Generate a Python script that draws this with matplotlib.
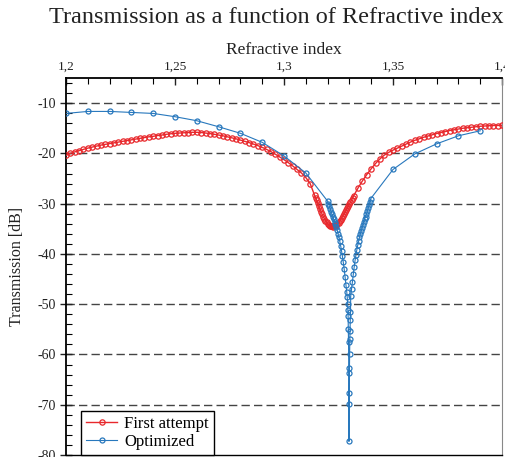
import numpy as np
import matplotlib.pyplot as plt
from matplotlib.ticker import MultipleLocator

# First attempt: coarse left part, dense dip, coarse right part
red_x_left = np.round(np.arange(1.200, 1.3139, 0.002), 4)
red_y_left = [-20.4, -20.0, -19.7, -19.45, -19.2, -18.95, -18.75, -18.55, -18.35, -18.2,
              -18.05, -17.9, -17.75, -17.6, -17.45, -17.3, -17.15, -17.0, -16.85, -16.7,
              -16.6, -16.45, -16.35, -16.2, -16.1, -16.0, -15.95, -15.9, -15.85, -15.8,
              -15.8, -15.85, -15.95, -16.05, -16.2, -16.35, -16.5, -16.7, -16.9, -17.1,
              -17.35, -17.6, -17.85, -18.15, -18.45, -18.8, -19.2, -19.65, -20.15, -20.7,
              -21.25, -21.85, -22.5, -23.2, -23.9, -24.8, -26.0]
red_x_dip = np.round(np.arange(1.3140, 1.33201, 0.0005), 4)
red_y_dip = [-28.3, -28.8, -29.3, -29.9, -30.5, -31.1, -31.6, -32.1, -32.6, -33.0,
             -33.4, -33.7, -34.0, -34.2, -34.35, -34.45, -34.5, -34.55, -34.5, -34.4,
             -34.25, -34.05, -33.8, -33.5, -33.15, -32.8, -32.45, -32.1, -31.75, -31.35,
             -30.95, -30.55, -30.15, -29.75, -29.3, -28.85, -28.4]
red_x_right = np.round(np.arange(1.334, 1.4001, 0.002), 4)
red_y_right = [-26.85, -25.45, -24.2, -23.05, -22.0, -21.1, -20.35, -19.8, -19.35, -18.95,
               -18.55, -18.15, -17.75, -17.4, -17.1, -16.8, -16.55, -16.3, -16.05, -15.85,
               -15.65, -15.45, -15.3, -15.15, -15.0, -14.9, -14.8, -14.7, -14.6, -14.55,
               -14.5, -14.45, -14.45, -14.4]

# Optimized: coarse points every 0.01 plus a dense sampling of the notch
blue_x_left = [1.20, 1.21, 1.22, 1.23, 1.24, 1.25, 1.26, 1.27, 1.28, 1.29, 1.30, 1.31]
blue_y_left = [-12.05, -11.65, -11.65, -11.85, -12.05, -12.7, -13.5, -14.7, -16.0, -17.8,
               -20.5, -23.9]
blue_x_dip = [1.3200, 1.3204, 1.3208, 1.3212, 1.3216, 1.3220, 1.3224, 1.3228, 1.3232, 1.3236,
              1.3240, 1.3244, 1.3248, 1.3252, 1.3256, 1.3260, 1.3264, 1.3268, 1.3272, 1.3276,
              1.3280, 1.3284, 1.3288, 1.3290, 1.3292, 1.3293, 1.3294, 1.3295, 1.3296, 1.3297,
              1.32975, 1.3298, 1.3299, 1.3300, 1.3301, 1.3302, 1.3303, 1.3304, 1.3305, 1.3306,
              1.3310, 1.3314, 1.3318, 1.3322, 1.3326, 1.3330, 1.3334, 1.3338, 1.3342, 1.3346,
              1.3350, 1.3354, 1.3358, 1.3362, 1.3366, 1.3370, 1.3374, 1.3378, 1.3382, 1.3386,
              1.3390, 1.3394, 1.3398]
blue_y_dip = [-29.5, -30.0, -30.5, -31.0, -31.6, -32.1, -32.6, -33.1, -33.6, -34.1,
              -34.7, -35.3, -36.0, -36.7, -37.5, -38.4, -39.4, -40.5, -41.7, -43.0,
              -44.5, -46.1, -47.6, -48.6, -50.0, -51.2, -52.3, -54.9, -57.6, -62.6,
              -67.7, -77.3, -69.8, -63.6, -60.0, -56.9, -55.3, -53.1, -51.5, -48.4,
              -46.9, -45.5, -44.0, -42.6, -41.3, -40.2, -39.2, -38.3, -37.5, -36.7,
              -36.0, -35.4, -34.8, -34.2, -33.6, -33.1, -32.6, -32.1, -31.5, -30.9,
              -30.3, -29.7, -29.0]
blue_x_right = [1.35, 1.36, 1.37, 1.38, 1.39]
blue_y_right = [-23.2, -20.1, -18.1, -16.5, -15.5]

red_x = np.concatenate([red_x_left, red_x_dip, red_x_right])
red_y = red_y_left + red_y_dip + red_y_right
blue_x = blue_x_left + blue_x_dip + blue_x_right
blue_y = blue_y_left + blue_y_dip + blue_y_right

x_ticks = [1.2, 1.25, 1.3, 1.35, 1.4]
x_tick_labels = ['1,2', '1,25', '1,3', '1,35', '1,4']
y_ticks = [-80, -70, -60, -50, -40, -30, -20, -10]
y_tick_labels = ['-80', '-70', '-60', '-50', '-40', '-30', '-20', '-10']

plt.rcParams['font.family'] = ['Liberation Serif', 'DejaVu Serif']

red = '#e8282c'
blue = '#2878bd'

fig = plt.figure(figsize=(5.06, 4.57), dpi=100)
ax = fig.add_axes([66 / 506, 2 / 457, 436 / 506, 377 / 457])

ax.plot(red_x, red_y, '-o', color=red, lw=1.0, ms=3.8, mew=0.9, mfc='none',
        label='First attempt', zorder=3)
ax.plot(blue_x, blue_y, '-o', color=blue, lw=0.8, ms=3.6, mew=0.9, mfc='none',
        label='Optimized', zorder=4)

ax.set_xlim(1.2, 1.4)
ax.set_ylim(-80, -5)

# axis on top
ax.xaxis.tick_top()
ax.xaxis.set_label_position('top')
ax.set_xticks(x_ticks)
ax.set_xticklabels(x_tick_labels)
ax.xaxis.set_minor_locator(MultipleLocator(0.01))
ax.set_yticks(y_ticks)
ax.set_yticklabels(y_tick_labels)
ax.yaxis.set_minor_locator(MultipleLocator(2))

ax.tick_params(axis='x', which='major', direction='in', length=5, width=1, labelsize=9.5,
               pad=4, colors='#222222')
ax.tick_params(axis='x', which='minor', direction='in', length=4, width=0.8)
ax.tick_params(axis='y', which='major', direction='inout', length=8, width=1, labelsize=10,
               pad=3, colors='#222222')
ax.tick_params(axis='y', which='minor', direction='in', length=4, width=0.8)

for y in y_ticks[1:]:
    ax.axhline(y, color='#444444', lw=1.0, dashes=(6, 3), zorder=1)

ax.spines['left'].set_linewidth(1.3)
ax.spines['top'].set_linewidth(1.3)
ax.spines['right'].set_color('#888888')
ax.spines['right'].set_linewidth(0.8)
ax.spines['bottom'].set_linewidth(1.0)

ax.set_xlabel('Refractive index', fontsize=12.5, labelpad=5, color='#222222')
ax.set_ylabel('Transmission [dB]', fontsize=11.5, color='#222222')
ax.yaxis.set_label_coords(-0.093, 0.5)

fig.text(0.545, 0.962, 'Transmission as a function of Refractive index',
         ha='center', va='center', fontsize=17.5, color='#222222')

leg = ax.legend(loc='lower left', bbox_to_anchor=(0.034, 0.0), borderaxespad=0,
                fancybox=False, framealpha=1, edgecolor='black', fontsize=12,
                handlelength=1.9, handletextpad=0.4, borderpad=0.3, labelspacing=0.15)
leg.get_frame().set_linewidth(1.0)

fig.savefig('out.png', dpi=100)
